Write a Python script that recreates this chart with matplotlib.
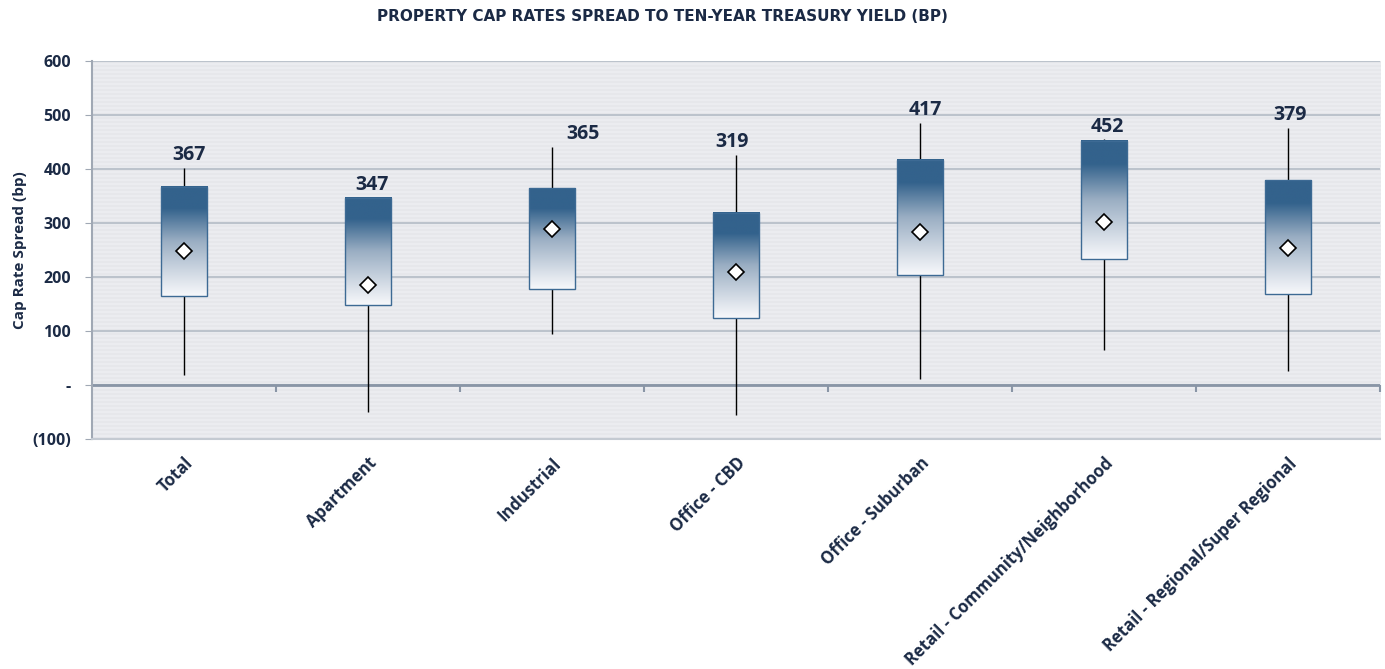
import matplotlib
matplotlib.use("Agg")
import matplotlib.pyplot as plt
import numpy as np
from matplotlib.colors import LinearSegmentedColormap, ListedColormap

plt.rcParams['font.family'] = ['Open Sans', 'DejaVu Sans']

# data (basis points)
categories = ['Total', 'Apartment', 'Industrial', 'Office - CBD', 'Office - Suburban',
              'Retail - Community/Neighborhood', 'Retail - Regional/Super Regional']
box_top = [367, 347, 365, 319, 417, 452, 379]
box_bottom = [165, 148, 178, 124, 204, 233, 168]
whisker_high = [402, 347, 441, 426, 485, 455, 476]
whisker_low = [19, -50, 94, -56, 11, 65, 26]
average = [248, 185, 289, 209, 283, 302, 254]

NAVY = '#1b2a45'
label_dx = [0.03, 0.02, 0.17, -0.02, 0.03, 0.02, 0.01]

fig = plt.figure(figsize=(13.85, 6.69), dpi=100)
ax = fig.add_axes([0.0664, 0.3438, 0.93, 0.565])
ax.set_facecolor('#e8e9ed')

# faint horizontal stripes in the plot background
stripes = (np.arange(189) % 2).reshape(-1, 1)
ax.imshow(stripes, cmap=ListedColormap(['#e6e7eb', '#ebecf0']), aspect='auto',
          interpolation='nearest', extent=[0, 1, 0, 1], transform=ax.transAxes, zorder=0)

grad_cmap = LinearSegmentedColormap.from_list(
    'boxgrad', [(0.0, '#f7f8fb'), (0.12, '#e2e7ee'), (0.5, '#9aaec3'), (0.8, '#33628c'), (1.0, '#33628c')])
gradient = np.linspace(0, 1, 256).reshape(-1, 1)

x = np.arange(len(categories))
w = 0.25
for i in x:
    ax.vlines(i, whisker_low[i], whisker_high[i], color='black', lw=1, zorder=3)
    ax.imshow(gradient, cmap=grad_cmap, origin='lower', aspect='auto', zorder=4,
              extent=[i - w / 2, i + w / 2, box_bottom[i], box_top[i]])
    ax.add_patch(plt.Rectangle((i - w / 2, box_bottom[i]), w, box_top[i] - box_bottom[i],
                               fill=False, edgecolor='#3d6a94', lw=1, zorder=5))
    top = max(box_top[i], whisker_high[i])
    ax.text(i + label_dx[i], top + 5, str(box_top[i]), ha='center', va='bottom',
            fontsize=14, fontweight='bold', color=NAVY, zorder=6)

ax.plot(x, average, linestyle='none', marker='D', markersize=8, markerfacecolor='white',
        markeredgecolor='black', markeredgewidth=1.2, zorder=6)

ax.set_xlim(-0.5, len(categories) - 0.5)
ax.set_ylim(-100, 600)
ax.set_yticks(np.arange(-100, 601, 100))
ax.set_yticklabels(['(100)', '-', '100', '200', '300', '400', '500', '600'])
ax.yaxis.grid(True, color='#bcc3cc', lw=1.5, zorder=1)
ax.set_axisbelow(True)
ax.axhline(0, color='#8995a6', lw=2, zorder=2)

ax.set_xticks(x)
ax.set_xticklabels(categories, rotation=45, ha='right', va='top', rotation_mode='anchor')
ax.tick_params(axis='x', length=0, pad=11)
ax.tick_params(axis='y', length=5, color='#a0a8b4', pad=10)
for lab in ax.get_xticklabels():
    lab.set_fontweight('bold')
    lab.set_color(NAVY)
    lab.set_fontsize(12)
for lab in ax.get_yticklabels():
    lab.set_fontweight('bold')
    lab.set_color(NAVY)
    lab.set_fontsize(11.5)

# small ticks between categories on the zero line
sec = ax.secondary_xaxis(100 / 700)
sec.set_xticks(np.arange(0.5, len(categories), 1.0))
sec.set_xticklabels([])
sec.tick_params(axis='x', length=5, width=1.5, color='#8995a6', direction='out')
sec.spines['bottom'].set_visible(False)
sec.spines['top'].set_visible(False)

for s in ['top', 'right']:
    ax.spines[s].set_visible(False)
ax.spines['left'].set_color('#a0a8b4')
ax.spines['left'].set_linewidth(1.5)
ax.spines['bottom'].set_color('#c4cad2')
ax.spines['bottom'].set_linewidth(1.5)

ax.set_ylabel('Cap Rate Spread (bp)', fontsize=11, fontweight='bold', color=NAVY, labelpad=4)
fig.text(0.4785, 0.975, 'PROPERTY CAP RATES SPREAD TO TEN-YEAR TREASURY YIELD (BP)',
         ha='center', va='center', fontsize=11, fontweight='bold', color=NAVY,
         family='DejaVu Sans')

fig.savefig('out.png', dpi=100)
